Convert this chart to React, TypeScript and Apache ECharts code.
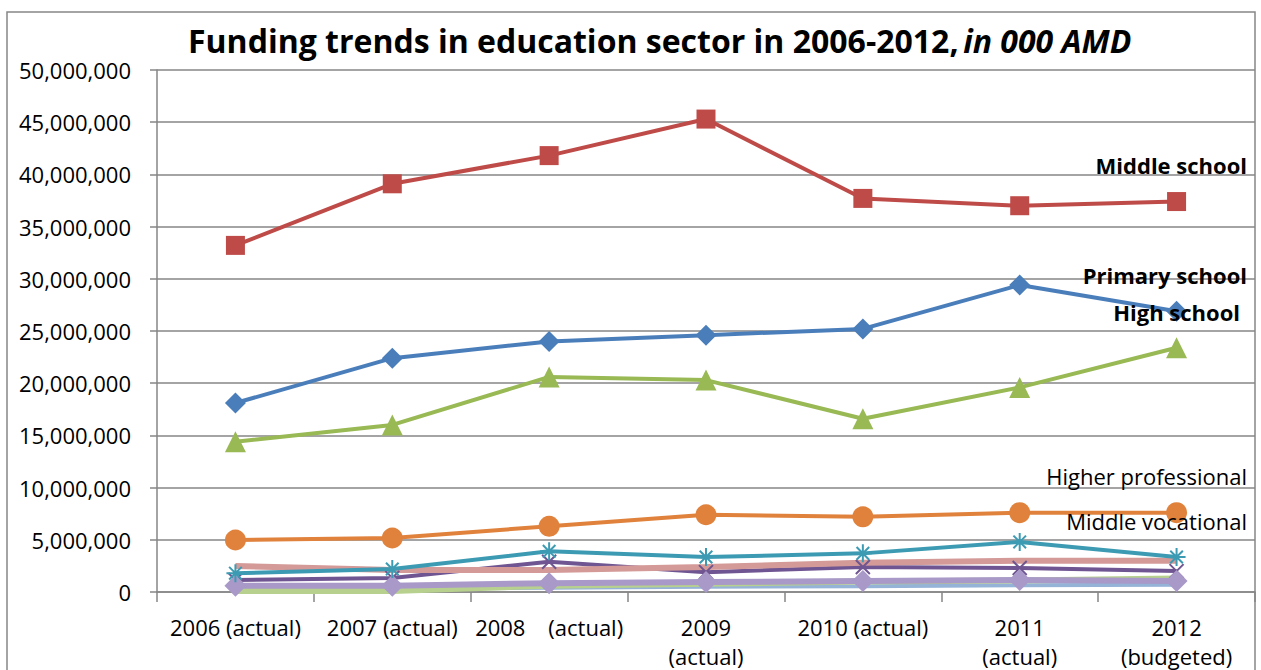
import React, { useEffect, useRef } from "react";
import * as echarts from "echarts";

const categories = [
  "2006 (actual)",
  "2007 (actual)",
  "2008    (actual)",
  "2009\n(actual)",
  "2010 (actual)",
  "2011\n(actual)",
  "2012\n(budgeted)",
];
const yTicks = [0, 5000000, 10000000, 15000000, 20000000, 25000000, 30000000, 35000000, 40000000, 45000000, 50000000];

const middleSchool = [33200000, 39100000, 41800000, 45300000, 37700000, 37000000, 37400000];
const primarySchool = [18100000, 22400000, 24000000, 24600000, 25200000, 29400000, 26900000];
const highSchool = [14400000, 16000000, 20600000, 20300000, 16600000, 19600000, 23400000];
const higherProfessional = [4980000, 5170000, 6300000, 7400000, 7200000, 7600000, 7600000];
const middleVocational = [1800000, 2200000, 3900000, 3350000, 3700000, 4800000, 3350000];
const preschool = [2500000, 2100000, 2100000, 2400000, 2800000, 3000000, 3000000];
const primaryVocational = [1150000, 1350000, 2900000, 1900000, 2400000, 2300000, 2000000];
const extracurricular = [600000, 600000, 850000, 950000, 1050000, 1150000, 1050000];
const otherEducation = [100000, 100000, 600000, 800000, 1000000, 1100000, 1300000];
const administration = [300000, 300000, 400000, 500000, 550000, 650000, 700000];

const FONT = "Open Sans";
const asterisk = "path://M5,0L5,10M0,5L10,5M1.5,1.5L8.5,8.5M8.5,1.5L1.5,8.5";
const xMark = "path://M0,0L10,10M10,0L0,10";

export default function App() {
  const ref = useRef<HTMLDivElement>(null);
  useEffect(() => {
    document.body.style.margin = "0";
    const chart = echarts.init(ref.current!, null, { renderer: "svg" });
    const line = (name: string, data: number[], color: string, symbol: string, size: number, width = 4, extra: any = {}) => ({
      name,
      type: "line",
      data,
      symbol,
      symbolSize: size,
      showSymbol: symbol !== "none",
      lineStyle: { color, width },
      itemStyle: { color, ...(extra.itemStyle || {}) },
      z: extra.z || 2,
    });
    const label = (text: string, x: number, y: number, bold: boolean) => ({
      type: "text",
      x,
      y,
      z: 10,
      style: { text, fontFamily: FONT, fontSize: 22, fontWeight: bold ? "bold" : "normal", fill: "#000", align: "right", verticalAlign: "middle" },
    });
    chart.setOption({
      animation: false,
      textStyle: { fontFamily: FONT },
      title: {
        left: 183,
        top: 19,
        text: "{b|Funding trends in education sector in 2006-2012,} {i|in 000 AMD}",
        textStyle: {
          rich: {
            b: { fontFamily: FONT, fontSize: 32, fontWeight: "bold", color: "#000" },
            i: { fontFamily: FONT, fontSize: 32, fontStyle: "italic", color: "#000" },
          },
        },
      },
      grid: { left: 157, right: 6, top: 70, bottom: 72, containLabel: false },
      xAxis: {
        type: "category",
        data: categories,
        boundaryGap: true,
        axisLine: { lineStyle: { color: "#868686", width: 1.5 } },
        axisTick: { show: true, interval: 0, length: 10, lineStyle: { color: "#868686", width: 1.5 } },
        axisLabel: { interval: 0, fontSize: 22, color: "#000", fontFamily: FONT, margin: 20, lineHeight: 29 },
      },
      yAxis: {
        type: "value",
        min: 0,
        max: 50000000,
        interval: 5000000,
        axisLine: { show: true, lineStyle: { color: "#868686", width: 1.5 } },
        axisTick: { show: true, length: 7, lineStyle: { color: "#868686", width: 1.5 } },
        splitLine: { lineStyle: { color: "#868686", width: 1.5 } },
        axisLabel: {
          fontSize: 22,
          color: "#000",
          fontFamily: FONT,
          margin: 26,
          formatter: (v: number) => (yTicks.includes(v) ? v.toLocaleString("en-US") : ""),
        },
      },
      series: [
        line("Administration", administration, "#95B3D7", "none", 0, 4),
        line("Other education", otherEducation, "#B7D08E", "none", 0, 6),
        line("Extracurricular", extracurricular, "#A899C8", "diamond", 22, 6, { z: 3 }),
        line("Primary vocational", primaryVocational, "#6F5591", xMark, 14, 4, { itemStyle: { borderColor: "#6F5591", borderWidth: 2 } }),
        line("Preschool", preschool, "#D39A98", "none", 0, 6),
        line("Middle vocational", middleVocational, "#3C9BB3", asterisk, 18, 4, { itemStyle: { borderColor: "#3C9BB3", borderWidth: 2 }, z: 4 }),
        line("Higher professional", higherProfessional, "#E0823C", "circle", 21, 4, { z: 4 }),
        line("High school", highSchool, "#98B954", "triangle", 21, 4, { z: 5 }),
        line("Primary school", primarySchool, "#4A7EBB", "diamond", 21, 4, { z: 5 }),
        line("Middle school", middleSchool, "#BE4B48", "rect", 19, 4, { z: 5 }),
      ],
      graphic: [
        { type: "rect", shape: { x: 7, y: 12, width: 1248, height: 700 }, style: { fill: "none", stroke: "#868686", lineWidth: 1.5 }, silent: true, z: -1 },
        label("Middle school", 1247, 165, true),
        label("Primary school", 1247, 275, true),
        label("High school", 1240, 312, true),
        label("Higher professional", 1247, 476, false),
        label("Middle vocational", 1247, 521, false),
      ],
    });
    return () => chart.dispose();
  }, []);
  return <div ref={ref} style={{ width: 1261, height: 670 }} />;
}
